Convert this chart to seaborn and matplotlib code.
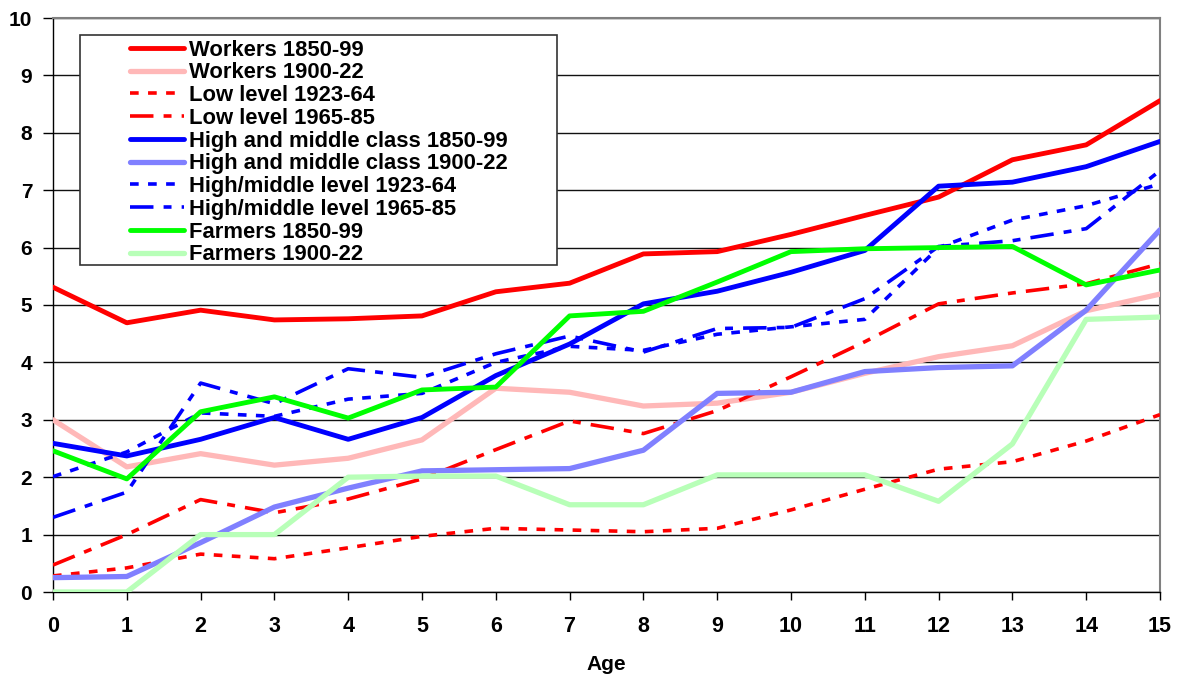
import numpy as np
import pandas as pd
import matplotlib
matplotlib.use("Agg")
import matplotlib.pyplot as plt
from matplotlib.patches import Rectangle
import seaborn as sns

# ---- data ----
ages = list(range(16))

workers_1850_99 = [5.31, 4.69, 4.91, 4.74, 4.76, 4.81, 5.23, 5.38, 5.89, 5.93, 6.23, 6.56, 6.88, 7.53, 7.79, 8.56]
workers_1900_22 = [3.00, 2.18, 2.41, 2.21, 2.33, 2.65, 3.55, 3.48, 3.24, 3.29, 3.48, 3.81, 4.10, 4.29, 4.90, 5.19]
low_1923_64 = [0.28, 0.42, 0.66, 0.58, 0.77, 0.97, 1.11, 1.08, 1.05, 1.11, 1.43, 1.79, 2.14, 2.27, 2.63, 3.09]
low_1965_85 = [0.47, 1.00, 1.61, 1.38, 1.62, 1.97, 2.48, 2.98, 2.76, 3.16, 3.75, 4.36, 5.02, 5.21, 5.37, 5.72]
high_1850_99 = [2.59, 2.37, 2.66, 3.04, 2.66, 3.04, 3.77, 4.32, 5.02, 5.24, 5.57, 5.95, 7.07, 7.14, 7.41, 7.85]
high_1900_22 = [0.25, 0.27, 0.86, 1.48, 1.81, 2.11, 2.13, 2.15, 2.47, 3.46, 3.48, 3.84, 3.91, 3.94, 4.91, 6.31]
high_1923_64 = [2.01, 2.44, 3.12, 3.06, 3.36, 3.46, 4.00, 4.28, 4.21, 4.49, 4.62, 4.75, 6.00, 6.48, 6.73, 7.11]
high_1965_85 = [1.30, 1.74, 3.64, 3.28, 3.89, 3.74, 4.15, 4.46, 4.18, 4.59, 4.61, 5.11, 6.02, 6.12, 6.33, 7.34]
farmers_1850_99 = [2.46, 1.97, 3.14, 3.40, 3.03, 3.52, 3.57, 4.81, 4.89, 5.40, 5.93, 5.98, 6.00, 6.02, 5.35, 5.61]
farmers_1900_22 = [0.00, 0.00, 1.00, 1.00, 2.00, 2.02, 2.02, 1.52, 1.52, 2.04, 2.04, 2.04, 1.58, 2.58, 4.75, 4.79]

series_names = ["Workers 1850-99", "Workers 1900-22", "Low level 1923-64", "Low level 1965-85",
                "High and middle class 1850-99", "High and middle class 1900-22",
                "High/middle level 1923-64", "High/middle level 1965-85",
                "Farmers 1850-99", "Farmers 1900-22"]
series_values = [workers_1850_99, workers_1900_22, low_1923_64, low_1965_85,
                 high_1850_99, high_1900_22, high_1923_64, high_1965_85,
                 farmers_1850_99, farmers_1900_22]

x_ticks = list(range(16))
y_ticks = list(range(11))

# ---- styles ----
dot = (0, (2.4, 2.6))
dashdot = (0, (6.5, 2.8, 2.2, 2.8))
styles = [
    dict(color="#FF0000", lw=3.5, ls="-"),
    dict(color="#FFB8B8", lw=3.8, ls="-"),
    dict(color="#FF0000", lw=2.6, ls=dot),
    dict(color="#FF0000", lw=2.6, ls=dashdot),
    dict(color="#0000FF", lw=3.5, ls="-"),
    dict(color="#8080FF", lw=3.8, ls="-"),
    dict(color="#0000FF", lw=2.6, ls=dot),
    dict(color="#0000FF", lw=2.6, ls=dashdot),
    dict(color="#00FF00", lw=3.5, ls="-"),
    dict(color="#B8FFB8", lw=3.8, ls="-"),
]

sns.set_style("white")
plt.rcParams["font.family"] = ["Liberation Sans", "DejaVu Sans"]
plt.rcParams["font.weight"] = "bold"
plt.rcParams["text.color"] = "black"
plt.rcParams["axes.labelcolor"] = "black"
plt.rcParams["xtick.color"] = "black"
plt.rcParams["ytick.color"] = "black"

W, H = 1182, 678
fig = plt.figure(figsize=(W / 100, H / 100), dpi=100)
ax = fig.add_axes([53 / W, 1 - 592 / H, (1160 - 53) / W, (592 - 18) / H])

df = pd.DataFrame({"Age": np.repeat([ages], len(series_names), axis=0).ravel(),
                   "value": np.concatenate(series_values),
                   "series": np.repeat(series_names, len(ages))})

handles = []
for name, st in zip(series_names, styles):
    sub = df[df["series"] == name]
    sns.lineplot(data=sub, x="Age", y="value", ax=ax, color=st["color"],
                 linewidth=st["lw"], linestyle=st["ls"], zorder=3, legend=False)
    handles.append(ax.lines[-1])

ax.set_xlim(0, 15)
ax.set_ylim(0, 10)
ax.set_xticks(x_ticks)
ax.set_yticks(y_ticks)
ax.yaxis.grid(True, color="#111111", linewidth=1.0)
ax.xaxis.grid(False)
ax.set_axisbelow(True)

for s in ["left", "bottom"]:
    ax.spines[s].set_color("black")
    ax.spines[s].set_linewidth(1.0)
for s in ["top", "right"]:
    ax.spines[s].set_color("#808080")
    ax.spines[s].set_linewidth(1.5)

ax.tick_params(axis="x", direction="out", length=6, width=1, color="black",
               labelcolor="black", labelsize=15.5, pad=11, bottom=True)
ax.tick_params(axis="y", direction="out", length=7, width=1, color="black",
               labelcolor="black", labelsize=15, pad=8, left=True)
for lab in ax.get_xticklabels() + ax.get_yticklabels():
    lab.set_fontweight("bold")

ax.set_xlabel("Age", fontsize=15, fontweight="bold", labelpad=13, color="black")
ax.set_ylabel("")

# legend box
x0 = (80 - 53) / 1107
y1 = (592 - 35) / 574
y0 = (592 - 265) / 574
box = Rectangle((x0, y0), (557 - 80) / 1107, y1 - y0, transform=ax.transAxes,
                facecolor="white", edgecolor="#333333", linewidth=1.2, zorder=4)
ax.add_patch(box)

leg = ax.legend(handles, series_names, loc="upper left",
                bbox_to_anchor=((130 - 53) / 1107, (592 - 39.5) / 574),
                frameon=False, borderpad=0, borderaxespad=0,
                handlelength=2.45, handletextpad=0.22, labelspacing=0.08,
                prop={"size": 15.8, "weight": "bold"})
for t in leg.get_texts():
    t.set_color("black")
leg.set_zorder(5)

fig.savefig("out.png", dpi=100)
